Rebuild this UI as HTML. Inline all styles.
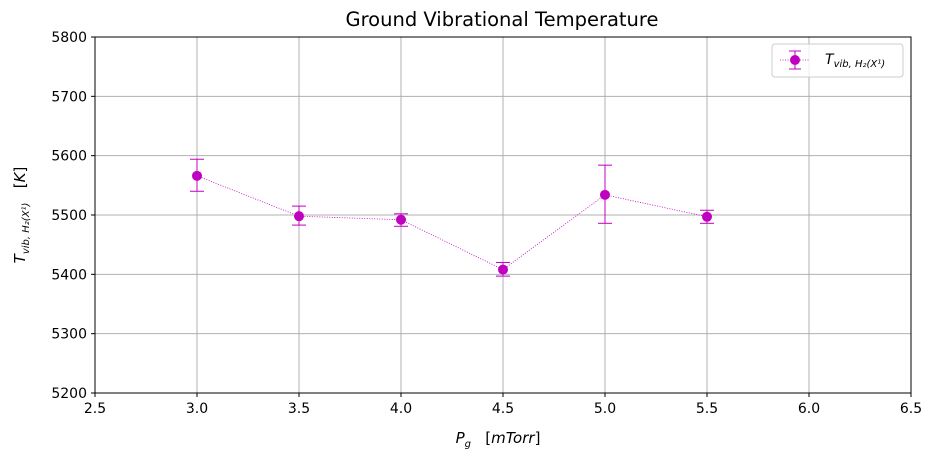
<!DOCTYPE html>
<html><head><meta charset="utf-8"><style>
body{margin:0;background:#fff;}
svg{font-family:"DejaVu Sans","Liberation Sans",sans-serif;}
text{white-space:pre;}
</style></head><body>
<svg id="c" width="936" height="462" viewBox="0 0 936 462" xmlns="http://www.w3.org/2000/svg">
<text x="502" y="26" font-size="19.5" text-anchor="middle">Ground Vibrational Temperature</text>
<g id="grid"></g><g id="ticks"></g><g id="series"></g>
<rect x="95" y="37" width="816" height="356" fill="none" stroke="#000" stroke-width="1"/>
<text x="498" y="443" font-size="15" text-anchor="middle"><tspan font-style="italic">P</tspan><tspan font-style="italic" font-size="10" dy="4">g</tspan><tspan dy="-4">   [</tspan><tspan font-style="italic">mTorr</tspan>]</text>
<text transform="translate(25,215) rotate(-90)" font-size="15" text-anchor="middle"><tspan font-style="italic">T</tspan><tspan font-style="italic" font-size="10" dy="4">vib, H₂(X¹)</tspan><tspan dy="-4">   [</tspan><tspan font-style="italic">K</tspan>]</text>
<g>
<rect x="772" y="44" width="131" height="33" rx="3" fill="#fff" fill-opacity="0.8" stroke="#ccc"/>
<line x1="780" y1="60" x2="810" y2="60" stroke="#c000c0" stroke-width="0.8" stroke-dasharray="1,1.5"/>
<line x1="795" y1="51" x2="795" y2="69" stroke="#c000c0"/>
<line x1="789" y1="51" x2="801" y2="51" stroke="#c000c0"/>
<line x1="789" y1="69" x2="801" y2="69" stroke="#c000c0"/>
<circle cx="795" cy="60" r="5" fill="#c000c0"/>
<text x="825" y="64" font-size="14" font-style="italic">T<tspan font-size="10" dy="3">vib, H₂(X¹)</tspan></text>
</g>
</svg>
<script>
const xs=[3.0,3.5,4.0,4.5,5.0,5.5];
const ys=[5566,5498,5492,5408,5534,5497];
const errLo=[5540,5483,5481,5397,5486,5486];
const errHi=[5594,5515,5502,5420,5584,5508];
const xTicks=[2.5,3.0,3.5,4.0,4.5,5.0,5.5,6.0,6.5];
const yTicks=[5200,5300,5400,5500,5600,5700,5800];
const X=v=>95+(v-2.5)/4*816, Y=v=>393-(v-5200)/600*356;
const NS="http://www.w3.org/2000/svg";
function mk(p,t,a){const e=document.createElementNS(NS,t);for(const k in a)e.setAttribute(k,a[k]);p.appendChild(e);return e;}
const g=document.getElementById('grid'),tk=document.getElementById('ticks'),s=document.getElementById('series');
xTicks.forEach(v=>{const x=X(v);
const l=mk(g,'line',{x1:x,x2:x,y1:37,y2:393,stroke:'#b0b0b0','stroke-width':1});


mk(tk,'line',{x1:x,x2:x,y1:393,y2:397,stroke:'#000'});
const t=mk(tk,'text',{x:x,y:413,'font-size':14,'text-anchor':'middle'});t.textContent=v.toFixed(1);

});
yTicks.forEach(v=>{const y=Y(v);
const l=mk(g,'line',{x1:95,x2:911,y1:y,y2:y,stroke:'#b0b0b0','stroke-width':1});


mk(tk,'line',{x1:91,x2:95,y1:y,y2:y,stroke:'#000'});
const t=mk(tk,'text',{x:87,y:y+5,'font-size':14,'text-anchor':'end'});t.textContent=v;

});
const pl=mk(s,'polyline',{points:xs.map((v,i)=>X(v)+','+Y(ys[i])).join(' '),fill:'none',stroke:'#c000c0','stroke-width':0.8,'stroke-dasharray':'1,1.5'});


xs.forEach((v,i)=>{const x=X(v);
const eb=mk(s,'g',{stroke:'#c000c0','stroke-width':1});


mk(eb,'line',{x1:x,x2:x,y1:Y(errLo[i]),y2:Y(errHi[i])});
mk(eb,'line',{x1:x-7,x2:x+7,y1:Y(errLo[i]),y2:Y(errLo[i])});
mk(eb,'line',{x1:x-7,x2:x+7,y1:Y(errHi[i]),y2:Y(errHi[i])});
const c=mk(s,'circle',{cx:x,cy:Y(ys[i]),r:5,fill:'#c000c0'});

});
</script>
</body></html>
